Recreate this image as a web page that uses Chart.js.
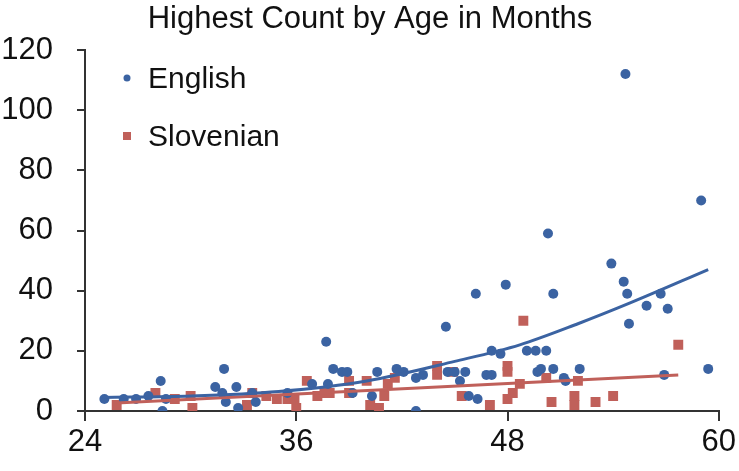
<!DOCTYPE html>
<html>
<head>
<meta charset="utf-8">
<script src="https://cdn.jsdelivr.net/npm/chart.js@4.4.1/dist/chart.umd.min.js"></script>
<style>
  html, body { margin: 0; padding: 0; background: #fff; }
  #wrap { width: 739px; height: 471px; }
</style>
</head>
<body>
<div id="wrap"><canvas id="chart"></canvas></div>
<script>
// values (age in months, highest count)
const englishAge   = [25.1, 26.2, 26.9, 27.6, 28.3, 28.4, 28.6, 31.4, 31.9, 31.8, 32.0, 32.6, 32.7, 33.5, 33.7, 35.5, 36.9, 37.7, 37.8, 38.1, 38.6, 38.9, 39.2, 40.3, 40.6, 41.7, 42.1, 42.8, 43.2, 42.8, 44.5, 44.6, 45.0, 45.3, 45.6, 45.8, 46.2, 46.3, 46.8, 47.1, 47.1, 47.6, 47.9, 49.1, 49.6, 49.7, 49.9, 50.2, 50.3, 50.6, 50.6, 51.2, 51.3, 52.1, 53.9, 54.6, 54.7, 54.8, 54.9, 55.9, 56.7, 56.9, 57.1, 59.0, 59.4];
const englishCount = [4, 4, 4, 5, 10, 0, 4, 8, 14, 6, 3, 8, 1, 6, 3, 6, 9, 23, 9, 14, 13, 13, 6, 5, 13, 14, 13, 11, 12, 0, 28, 13, 13, 10, 13, 5, 39, 4, 12, 12, 20, 19, 42, 20, 20, 13, 14, 20, 59, 14, 39, 11, 10, 14, 49, 43, 112, 39, 29, 35, 39, 12, 34, 70, 14];

const slovenianAge   = [25.8, 28.0, 29.1, 30.0, 30.1, 33.2, 33.5, 34.3, 34.9, 35.5, 35.9, 36.0, 36.6, 37.2, 37.6, 37.9, 39.0, 39.0, 40.0, 40.2, 40.7, 41.0, 41.2, 41.6, 44.0, 44.0, 44.9, 45.4, 47.0, 48.0, 48.0, 48.0, 48.3, 48.7, 48.9, 50.2, 50.5, 51.8, 51.8, 52.0, 53.0, 54.0, 57.7];
const slovenianCount = [2, 6, 4, 5, 1, 2, 6, 5, 4, 4, 4, 1, 10, 5, 6, 6, 6, 10, 10, 2, 1, 5, 9, 11, 15, 12, 13, 5, 2, 15, 13, 4, 6, 9, 30, 11, 3, 5, 2, 10, 3, 5, 22];

// trend lines as drawn in the picture
const englishTrendAge   = [25, 30, 35, 40, 45, 48.7, 52, 55, 59.4];
const englishTrendCount = [4.5, 5, 6.5, 10, 16.5, 22, 29, 36, 47];
const slovenianTrendAge   = [25.8, 57.7];
const slovenianTrendCount = [2.7, 12];

const xTicks = [24, 36, 48, 60];
const yTicks = [0, 20, 40, 60, 80, 100, 120];

const chartTitle = 'Highest Count by Age in Months';
const seriesNames = ['English', 'Slovenian'];
const blue = '#3b63a2';
const red = '#c0605a';
const font = "'Liberation Sans', Arial, sans-serif";

function pts(xs, ys) { return xs.map((x, i) => ({ x: x, y: ys[i] })); }

// title and legend drawn by hand: the title sits a bit right of the canvas centre
// and the legend lives inside the plot, top left
const decorations = {
  id: 'decorations',
  afterDraw(chart) {
    const ctx = chart.ctx;
    ctx.save();
    ctx.fillStyle = '#111';
    ctx.textBaseline = 'middle';
    ctx.textAlign = 'center';
    ctx.font = '31px ' + font;
    ctx.fillText(chartTitle, 370, 19);

    ctx.textAlign = 'left';
    ctx.font = '30px ' + font;
    ctx.fillText(seriesNames[0], 148, 80);
    ctx.fillText(seriesNames[1], 148, 138);
    ctx.fillStyle = blue;
    ctx.beginPath();
    ctx.arc(127, 78, 3.5, 0, Math.PI * 2);
    ctx.fill();
    ctx.fillStyle = red;
    ctx.fillRect(123, 132, 8, 8);
    ctx.restore();
  }
};

new Chart(document.getElementById('chart'), {
  type: 'scatter',
  data: {
    datasets: [
      {
        type: 'line', label: 'English trend', data: pts(englishTrendAge, englishTrendCount),
        borderColor: blue, borderWidth: 3, pointRadius: 0, tension: 0.4, cubicInterpolationMode: 'monotone', order: 0
      },
      {
        type: 'line', label: 'Slovenian trend', data: pts(slovenianTrendAge, slovenianTrendCount),
        borderColor: red, borderWidth: 3, pointRadius: 0, order: 1
      },
      {
        label: seriesNames[1], data: pts(slovenianAge, slovenianCount),
        pointStyle: 'rect', pointRadius: 7, backgroundColor: red, borderWidth: 0, order: 3
      },
      {
        label: seriesNames[0], data: pts(englishAge, englishCount),
        pointStyle: 'circle', pointRadius: 5, backgroundColor: blue, borderWidth: 0, order: 2
      }
    ]
  },
  options: {
    responsive: true,
    maintainAspectRatio: false,
    animation: false,
    layout: { padding: { left: 0, right: 19, top: 50, bottom: 0 } },
    plugins: {
      legend: { display: false },
      tooltip: { enabled: false },
      title: { display: false }
    },
    scales: {
      x: {
        type: 'linear', min: 24, max: 60,
        afterBuildTicks: s => { s.ticks = xTicks.map(v => ({ value: v })); },
        afterFit: s => { s.height = 60; },
        border: { display: true, color: '#333', width: 2 },
        grid: { drawOnChartArea: false, drawTicks: true, tickLength: 10, color: '#333', lineWidth: 2 },
        ticks: { color: '#111', font: { family: font, size: 31 }, padding: 3, maxRotation: 0 }
      },
      y: {
        type: 'linear', min: 0, max: 120,
        afterBuildTicks: s => { s.ticks = yTicks.map(v => ({ value: v })); },
        afterFit: s => { s.width = 85; },
        border: { display: true, color: '#333', width: 2 },
        grid: { drawOnChartArea: false, drawTicks: true, tickLength: 8, color: '#333', lineWidth: 2 },
        ticks: { color: '#111', font: { family: font, size: 31 }, padding: 24 }
      }
    }
  },
  plugins: [decorations]
});
</script>
</body>
</html>
